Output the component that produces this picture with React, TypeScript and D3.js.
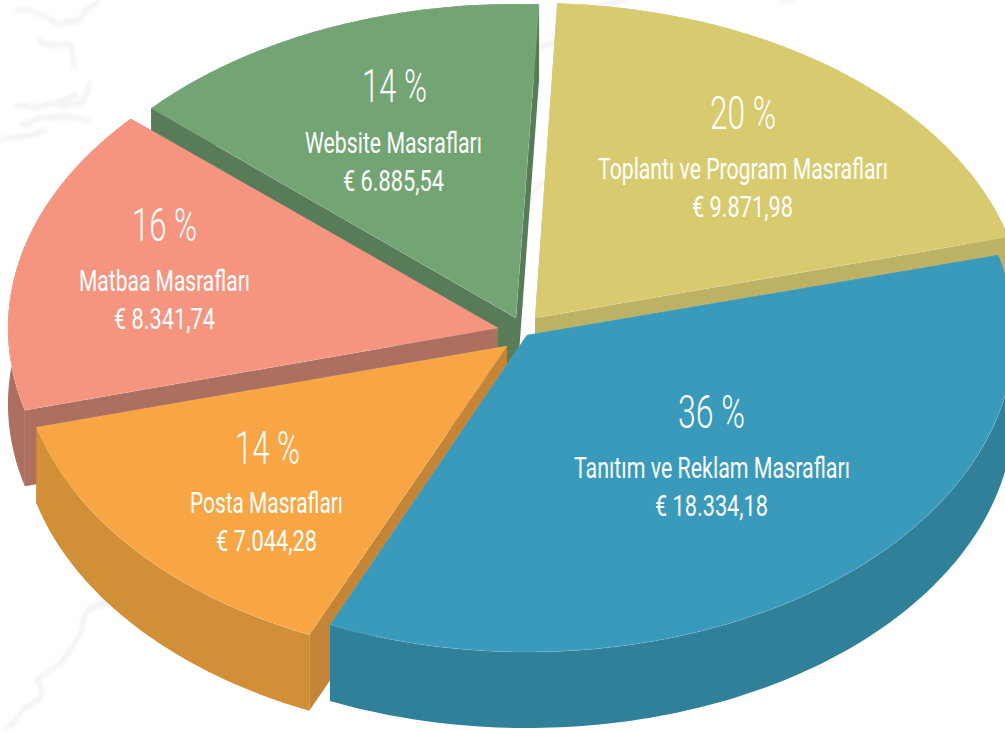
import React from "react";
import * as d3 from "d3";

// ---- data ----
const categories = ["Tanıtım ve Reklam Masrafları", "Posta Masrafları", "Matbaa Masrafları", "Website Masrafları", "Toplantı ve Program Masrafları"];
const amounts = [18334.18, 7044.28, 8341.74, 6885.54, 9871.98];
const amountLabels = ["€ 18.334,18", "€ 7.044,28", "€ 8.341,74", "€ 6.885,54", "€ 9.871,98"];
const percentLabels = ["36 %", "14 %", "16 %", "14 %", "20 %"];

// ---- styles and layout, per slice ----
const topColors = ["#399abb", "#f8a543", "#f59580", "#73a474", "#d8cb6f"];
const sideColors = ["#30809a", "#d18f38", "#ad6f60", "#587b58", "#bdb163"];
const wallColors = ["#30809a", "#c48636", "#ad6f60", "#587b58", "#bdb163"];
// apex of each exploded slice, its elliptical radii, and a small foreshortening tweak (deg)
const apex = [[527, 335], [507, 346], [498, 328], [516, 318], [535, 318]];
const radii = [[487, 317], [487, 316], [490, 316], [490, 314], [490, 315]];
const angleTweak = [[0, -2.3], [-2.2, -1.3], [-1.5, -4.4], [-4.0, -2.3], [-2.4, -0.3]];
const paintOrder = [3, 4, 2, 1, 0];
// text: [pct centre x, pct baseline, pct width, label left, label right, label baseline, value left, value right, value baseline]
const textBoxes = [
  [711.5, 428, 67, 574, 850, 478, 655, 768, 516],
  [267.5, 464, 65, 190, 343, 513, 216, 317, 551],
  [164.5, 241, 65, 79, 250, 291, 114, 215, 329],
  [394.5, 102, 65, 305, 482, 153, 343, 444, 191],
  [743, 129, 66, 598, 888, 179, 692, 793, 217],
];
const depth = 76;
const startDeg = -14.6;

// faint map decoration in the background
const mapStrokes = [
  "M15,12 C28,6 38,14 48,18 C56,24 62,28 68,21 C72,24 82,22 84,12 C88,8 94,6 100,0",
  "M40,38 C38,46 50,46 70,44 C74,54 72,60 74,68",
  "M90,82 C88,92 84,100 80,104 C70,102 62,106 60,108",
  "M16,106 C24,102 34,112 40,106 C52,104 66,100 76,94",
  "M22,122 C26,126 20,128 28,124 C36,118 42,116 46,118 C62,116 76,116 90,122",
  "M0,140 C8,136 16,140 36,134 C40,132 44,130 46,130",
  "M112,602 C100,606 88,606 84,616 C84,632 72,648 62,662 C50,672 40,676 36,680 C46,692 44,700 24,708 C18,716 16,722 6,728",
  "M84,616 C90,608 96,606 105,600",
  "M540,48 C548,44 554,42 560,44",
  "M530,200 C534,190 540,184 544,180",
  "M600,6 C610,4 616,2 624,0",
  "M780,2 C790,0 790,0 794,0",
];

const toRad = (d: number) => (d * Math.PI) / 180;

export default function App() {
  const pie = d3.pie<number>().sort(null).startAngle(toRad(startDeg)).endAngle(toRad(startDeg + 360));
  const arcs = pie(amounts);
  const line = d3.line<[number, number]>().x((p) => p[0]).y((p) => p[1]);

  const slices = arcs.map((a, i) => {
    const [ax, ay] = apex[i];
    const [rx, ry] = radii[i];
    const t0 = a.startAngle + toRad(angleTweak[i][0]);
    const t1 = a.endAngle + toRad(angleTweak[i][1]);
    const angle = d3.scaleLinear().domain([0, 120]).range([t0, t1]);
    const rim: [number, number][] = d3.range(0, 121).map((k) => [
      ax + rx * Math.cos(angle(k)),
      ay + ry * Math.sin(angle(k)),
    ]);
    const lower = (p: [number, number]): [number, number] => [p[0], p[1] + depth];
    const centre: [number, number] = [ax, ay];
    const top = line([centre, ...rim])! + "Z";
    const outer = line([...rim, ...rim.map(lower).reverse()])! + "Z";
    const wallA = line([centre, rim[0], lower(rim[0]), lower(centre)])! + "Z";
    const wallB = line([centre, rim[120], lower(rim[120]), lower(centre)])! + "Z";
    return { top, outer, wallA, wallB };
  });

  const font = "'Roboto','Liberation Sans',sans-serif";
  return (
    <svg
      width={1005}
      height={732}
      viewBox="0 0 1005 732"
      style={{ position: "fixed", left: 0, top: 0, background: "#fff" }}
    >
      <defs>
        <filter id="soft" x="-10%" y="-10%" width="120%" height="120%">
          <feGaussianBlur stdDeviation="2" />
        </filter>
      </defs>
      <g fill="none" stroke="#ededed" strokeWidth={3.5} strokeLinecap="round" filter="url(#soft)">
        {mapStrokes.map((d, i) => (
          <path key={i} d={d} />
        ))}
      </g>
      {paintOrder.map((i) => (
        <g key={i}>
          <path d={slices[i].wallA} fill={wallColors[i]} />
          <path d={slices[i].wallB} fill={wallColors[i]} />
          <path d={slices[i].outer} fill={sideColors[i]} />
          <path d={slices[i].top} fill={topColors[i]} stroke="#ffffff" strokeOpacity={0.2} strokeWidth={0.6} />
        </g>
      ))}
      <g fill="#fff" fontFamily={font}>
        {categories.map((c, i) => {
          const b = textBoxes[i];
          return (
            <g key={c}>
              <text
                x={b[0] - b[2] / 2}
                y={b[1]}
                fontSize={47}
                fontWeight={300}
                textLength={b[2]}
                lengthAdjust="spacingAndGlyphs"
              >
                {percentLabels[i]}
              </text>
              <text x={b[3]} y={b[5]} fontSize={30} textLength={b[4] - b[3]} lengthAdjust="spacingAndGlyphs">
                {c}
              </text>
              <text x={b[6]} y={b[8]} fontSize={30} textLength={b[7] - b[6]} lengthAdjust="spacingAndGlyphs">
                {amountLabels[i]}
              </text>
            </g>
          );
        })}
      </g>
    </svg>
  );
}
